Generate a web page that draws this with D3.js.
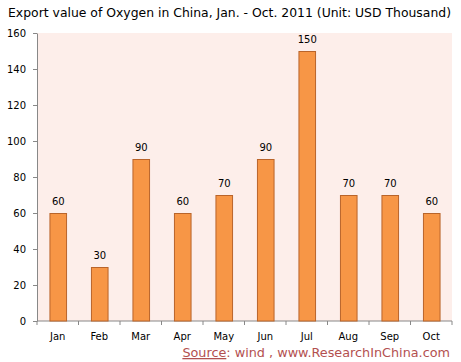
<!DOCTYPE html>
<html><head><meta charset="utf-8">
<script src="https://cdn.jsdelivr.net/npm/d3@7"></script>
<style>body{margin:0;background:#fff}svg{display:block}</style>
</head><body>
<script>
const categories = ["Jan","Feb","Mar","Apr","May","Jun","Jul","Aug","Sep","Oct"];
const values = [60,30,90,60,70,90,150,70,70,60];
const yTicks = [0,20,40,60,80,100,120,140,160];
const title = "Export value of Oxygen in China, Jan. - Oct. 2011 (Unit: USD Thousand)";

const W=461,H=362;
const m={left:37,right:9,top:33,bottom:41};
const svg=d3.select("body").append("svg").attr("width",W).attr("height",H);
const x=d3.scaleBand().domain(categories).range([m.left,W-m.right]).paddingInner(0.6).paddingOuter(0.3);
const xb=d3.scaleBand().domain(categories).range([m.left,W-m.right]);
const y=d3.scaleLinear().domain([0,160]).range([H-m.bottom,m.top]);

svg.append("rect").attr("x",m.left).attr("y",m.top).attr("width",W-m.right-m.left).attr("height",H-m.bottom-m.top).attr("fill","#FDEEEA");

svg.append("text").attr("x",8).attr("y",17).attr("font-family","'DejaVu Sans',sans-serif").attr("font-size",12.5)
 .attr("textLength",443).attr("lengthAdjust","spacingAndGlyphs").attr("fill","#000").text(title);

// y axis
const ya=svg.append("g").attr("transform",`translate(${m.left},0)`).call(d3.axisLeft(y).tickValues(yTicks).tickSize(4).tickSizeOuter(0).tickPadding(7));
ya.select(".domain").attr("stroke","#888");
ya.selectAll(".tick line").attr("stroke","#888");
ya.selectAll("text").attr("font-family","'DejaVu Sans',sans-serif").attr("font-size",10).attr("fill","#000");

// x axis
const xa=svg.append("g").attr("transform",`translate(0,${H-m.bottom})`);
xa.append("line").attr("x1",m.left).attr("x2",W-m.right).attr("stroke","#888");
const bounds=categories.map(c=>xb(c)).concat([xb(categories[categories.length-1])+xb.bandwidth()]);
xa.selectAll("line.t").data(bounds).join("line").attr("class","t").attr("x1",d=>d).attr("x2",d=>d).attr("y1",0).attr("y2",4).attr("stroke","#888");
xa.selectAll("text").data(categories).join("text").attr("x",d=>xb(d)+xb.bandwidth()/2).attr("y",19).attr("text-anchor","middle").attr("font-family","'DejaVu Sans',sans-serif").attr("font-size",10).text(d=>d);

// bars
svg.selectAll("rect.bar").data(values).join("rect").attr("class","bar")
 .attr("x",(d,i)=>x(categories[i])+0.5).attr("width",x.bandwidth())
 .attr("y",d=>y(d)+0.5).attr("height",d=>y(0)-y(d)-0.5)
 .attr("fill","#F79646").attr("stroke","#B9642A").attr("stroke-width",1);

svg.selectAll("text.lbl").data(values).join("text").attr("class","lbl")
 .attr("x",(d,i)=>x(categories[i])+x.bandwidth()/2+0.5).attr("y",d=>y(d)-8)
 .attr("text-anchor","middle").attr("font-family","'DejaVu Sans',sans-serif").attr("font-size",10).text(d=>d);

// source
const s=svg.append("text").attr("x",450).attr("y",357).attr("text-anchor","end").attr("font-family","'DejaVu Sans',sans-serif").attr("font-size",12.8).attr("fill","#B3504F");
s.append("tspan").attr("text-decoration","underline").text("Source");
s.append("tspan").text(": wind , www.ResearchInChina.com");
</script>
</body></html>
